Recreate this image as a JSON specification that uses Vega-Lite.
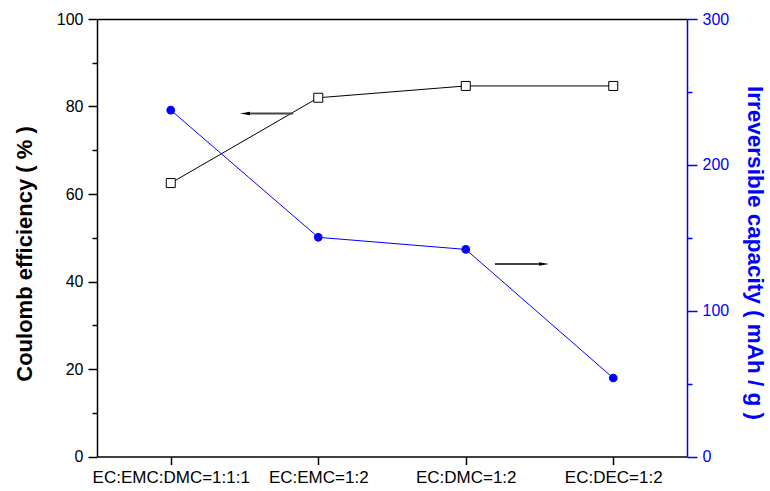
{
  "$schema": "https://vega.github.io/schema/vega-lite/v6.json",
  "width": 590,
  "height": 437.5,
  "autosize": "none",
  "padding": {"left": 97, "top": 19, "right": 83, "bottom": 34.5},
  "background": "white",
  "config": {
    "view": {"stroke": null},
    "font": "Liberation Sans"
  },
  "datasets": {
    "main": [
      {"i": 0, "solvent": "EC:EMC:DMC=1:1:1", "ce": 62.5, "irr": 237.5},
      {"i": 1, "solvent": "EC:EMC=1:2", "ce": 82.0, "irr": 150.3},
      {"i": 2, "solvent": "EC:DMC=1:2", "ce": 84.7, "irr": 142.0},
      {"i": 3, "solvent": "EC:DEC=1:2", "ce": 84.7, "irr": 53.8}
    ],
    "arrows": [
      {"x": 0.829, "x2": 0.52, "head": 0.5034, "y": 78.4, "dir": "left"},
      {"x": 2.198, "x2": 2.51, "head": 2.5305, "y": 44.0, "dir": "right"}
    ]
  },
  "layer": [
    {
      "data": {"name": "main"},
      "mark": {"type": "line", "color": "black", "strokeWidth": 1},
      "encoding": {
        "x": {
          "field": "i", "type": "quantitative",
          "scale": {"domain": [-0.5, 3.5], "nice": false, "zero": false},
          "axis": {
            "orient": "bottom", "title": null, "values": [0, 1, 2, 3],
            "labelExpr": "['EC:EMC:DMC=1:1:1','EC:EMC=1:2','EC:DMC=1:2','EC:DEC=1:2'][datum.value]",
            "grid": false, "domainColor": "black", "domainWidth": 1.5,
            "tickColor": "black", "tickWidth": 1.5, "tickSize": 8,
            "labelColor": "black", "labelFont": "Liberation Sans", "labelFontSize": 17,
            "labelPadding": 5, "labelFlush": false, "labelOverlap": false
          }
        },
        "y": {
          "field": "ce", "type": "quantitative",
          "scale": {"domain": [0, 100], "nice": false},
          "axis": {
            "orient": "left", "title": "Coulomb efficiency ( % )",
            "values": [0, 10, 20, 30, 40, 50, 60, 70, 80, 90, 100],
            "labelExpr": "datum.value % 20 === 0 ? datum.label : ''",
            "tickSize": {"condition": {"test": "datum.value % 20 === 0", "value": 9}, "value": 5},
            "grid": false, "domainColor": "black", "domainWidth": 1.5,
            "tickColor": "black", "tickWidth": 1.5,
            "labelColor": "black", "labelFont": "Liberation Sans", "labelFontSize": 16,
            "labelPadding": 5,
            "titleColor": "black", "titleFont": "Liberation Sans", "titleFontSize": 22,
            "titleFontWeight": "bold", "titlePadding": 20, "titleY": 234.5
          }
        }
      }
    },
    {
      "data": {"name": "main"},
      "mark": {"type": "point", "shape": "square", "filled": true, "fill": "white", "stroke": "black", "strokeWidth": 1, "size": 81, "opacity": 1},
      "encoding": {
        "x": {"field": "i", "type": "quantitative", "scale": {"domain": [-0.5, 3.5], "nice": false, "zero": false}, "axis": null},
        "y": {"field": "ce", "type": "quantitative", "scale": {"domain": [0, 100], "nice": false}, "axis": null}
      }
    },
    {
      "data": {"name": "arrows"},
      "mark": {"type": "rule", "color": "#444444", "strokeWidth": 2},
      "encoding": {
        "x": {"field": "x", "type": "quantitative", "scale": {"domain": [-0.5, 3.5], "nice": false, "zero": false}, "axis": null},
        "x2": {"field": "x2"},
        "y": {"field": "y", "type": "quantitative", "scale": {"domain": [0, 100], "nice": false}, "axis": null}
      }
    },
    {
      "data": {"name": "arrows"},
      "mark": {"type": "point", "filled": true, "color": "black", "size": 100, "opacity": 1},
      "encoding": {
        "x": {"field": "head", "type": "quantitative", "scale": {"domain": [-0.5, 3.5], "nice": false, "zero": false}, "axis": null},
        "y": {"field": "y", "type": "quantitative", "scale": {"domain": [0, 100], "nice": false}, "axis": null},
        "shape": {
          "field": "dir", "type": "nominal",
          "scale": {"domain": ["left", "right"], "range": ["M -1 0 L 1 -0.35 L 1 0.35 Z", "M 1 0 L -1 -0.35 L -1 0.35 Z"]},
          "legend": null
        }
      }
    },
    {
      "data": {"name": "main"},
      "mark": {"type": "line", "color": "#0000ff", "strokeWidth": 1},
      "encoding": {
        "x": {
          "field": "i", "type": "quantitative",
          "scale": {"domain": [-0.5, 3.5], "nice": false, "zero": false},
          "axis": {
            "orient": "top", "title": null, "values": [0, 1, 2, 3],
            "labels": false, "ticks": false, "grid": false,
            "domainColor": "black", "domainWidth": 1.5
          }
        },
        "y": {
          "field": "irr", "type": "quantitative",
          "scale": {"domain": [0, 300], "nice": false},
          "axis": {
            "orient": "right", "title": "Irreversible capacity ( mAh / g )",
            "values": [0, 50, 100, 150, 200, 250, 300],
            "labelExpr": "datum.value % 100 === 0 ? datum.label : ''",
            "tickSize": {"condition": {"test": "datum.value % 100 === 0", "value": 10}, "value": 5},
            "grid": false, "domainColor": "#0000ff", "domainWidth": 1.5,
            "tickColor": "#0000ff", "tickWidth": 1.5,
            "labelColor": "#0000ff", "labelFont": "Liberation Sans", "labelFontSize": 16,
            "labelPadding": 5,
            "titleColor": "#0000ff", "titleFont": "Liberation Sans", "titleFontSize": 22.5,
            "titleFontWeight": "bold", "titlePadding": 14, "titleY": 233.5
          }
        }
      }
    },
    {
      "data": {"name": "main"},
      "mark": {"type": "point", "shape": "circle", "filled": true, "color": "#0000ff", "size": 75, "opacity": 1},
      "encoding": {
        "x": {"field": "i", "type": "quantitative", "scale": {"domain": [-0.5, 3.5], "nice": false, "zero": false}, "axis": null},
        "y": {"field": "irr", "type": "quantitative", "scale": {"domain": [0, 300], "nice": false}, "axis": null}
      }
    }
  ],
  "resolve": {"scale": {"y": "independent", "shape": "independent"}, "axis": {"x": "independent", "y": "independent"}}
}
